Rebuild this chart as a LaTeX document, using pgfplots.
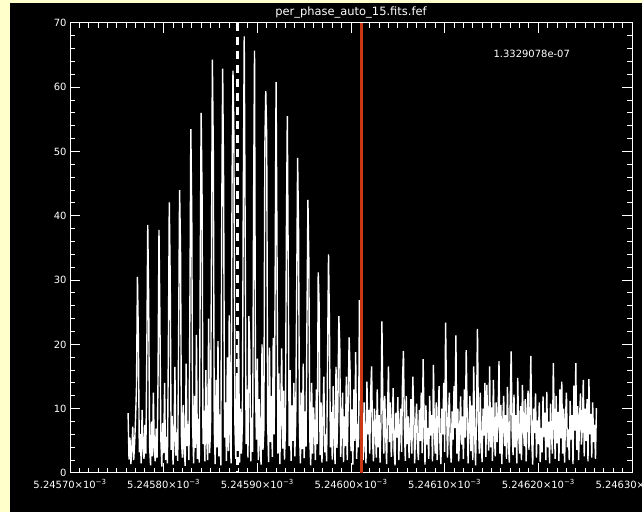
\documentclass[border=0pt]{standalone}
\usepackage{fontspec}
\setmainfont{DejaVu Sans}
\usepackage{pgfplots}
\pgfplotsset{compat=1.18}
\definecolor{bgyellow}{RGB}{255,255,204}
\definecolor{idlred}{RGB}{205,55,20}
\begin{document}
\begin{tikzpicture}[x=1bp,y=1bp]
\useasboundingbox (0,0) rectangle (642,512);
\clip (0,0) rectangle (642,512);
\fill[bgyellow] (0,0) rectangle (642,512);
\fill[black] (10,0) rectangle (642,509);
\node[white,font=\fontsize{11.5}{13}\selectfont] at (351,499) {per\_phase\_auto\_15.fits.fef};
\begin{axis}[
  at={(70bp,39bp)}, anchor=south west,
  scale only axis, width=562bp, height=450bp,
  xmin=0, xmax=600, ymin=0, ymax=70,
  axis line style={white, line width=1bp},
  every tick/.style={white, line width=1bp},
  major tick length=10bp, minor tick length=5bp,
  tick align=inside,
  xtick={0,100,200,300,400,500,600},
  xticklabels={5.24570×10\textsuperscript{−3},5.24580×10\textsuperscript{−3},5.24590×10\textsuperscript{−3},5.24600×10\textsuperscript{−3},5.24610×10\textsuperscript{−3},5.24620×10\textsuperscript{−3},5.24630×10\textsuperscript{−3}},
  minor x tick num=9,
  ytick={0,10,20,30,40,50,60,70},
  minor y tick num=4,
  /pgf/number format/assume math mode=true,
  tick label style={white, font=\fontsize{10}{12}\selectfont},
  xticklabel style={yshift=-3bp},
  clip=true,
]
\addplot[white, line width=1.4bp, mark=none] coordinates {
(62,9.3)(63,2.1)(64,5.5)(65,1.4)(66,3.8)(67,7.2)(68,2.0)(69,4.6)(70,8.5)(71,13.5)(72,30.5)(73,21.0)(74,3.2)(75,6.1)(76,1.5)(77,9.8)(78,4.0)(79,2.2)(80,7.5)(81,3.0)
(82,18.6)(83,38.6)(84,27.0)(85,4.1)(86,1.2)(87,8.0)(88,2.6)(89,12.5)(90,3.5)(91,1.8)(92,6.9)(93,2.4)(94,15.0)(95,37.8)(96,24.0)(97,5.2)(98,1.0)(99,7.8)(100,3.1)
(101,14.0)(102,2.0)(103,5.6)(104,1.5)(105,19.0)(106,42.1)(107,30.0)(108,3.6)(109,8.9)(110,1.3)(111,4.8)(112,16.5)(113,2.7)(114,6.3)(115,1.9)(116,22.0)(117,44.0)(118,35.0)(119,5.0)(120,2.4)
(121,10.6)(122,3.3)(123,1.1)(124,17.0)(125,4.2)(126,7.6)(127,2.0)(128,26.0)(129,53.5)(130,40.0)(131,6.8)(132,1.5)(133,12.0)(134,3.9)(135,21.5)(136,2.2)(137,8.4)(138,1.6)(139,30.0)(140,56.0)
(141,43.0)(142,4.5)(143,9.7)(144,1.8)(145,16.0)(146,5.3)(147,2.0)(148,24.0)(149,3.1)(150,6.5)(151,33.0)(152,64.3)(153,50.0)(154,7.2)(155,1.4)(156,14.5)(157,4.0)(158,20.5)(159,2.6)(160,9.1)
(161,1.2)(162,40.0)(163,62.9)(164,45.0)(165,5.5)(166,11.0)(167,1.9)(168,18.0)(169,3.4)(170,24.5)(171,6.0)(172,1.5)(173,45.0)(174,62.6)(175,52.0)(176,8.0)(177,2.2)(178,15.5)(179,4.0)(180,22.0)
(181,1.6)(182,10.0)(183,3.0)(184,7.5)(185,42.5)(186,67.9)(187,38.0)(188,4.5)(189,13.0)(190,2.4)(191,24.4)(192,19.0)(193,1.8)(194,8.6)(195,3.3)(196,42.0)(197,65.7)(198,14.0)(199,5.2)(200,17.8)
(201,2.0)(202,11.5)(203,4.4)(204,1.3)(205,20.0)(206,3.6)(207,6.9)(208,50.6)(209,59.4)(210,52.3)(211,8.1)(212,1.7)(213,19.5)(214,4.8)(215,12.0)(216,2.5)(217,21.0)(218,6.0)(219,30.0)(220,60.8)
(221,35.0)(222,3.0)(223,15.5)(224,1.4)(225,9.0)(226,19.4)(227,3.8)(228,12.8)(229,2.1)(230,7.0)(231,37.0)(232,55.5)(233,32.0)(234,4.2)(235,16.0)(236,1.9)(237,10.5)(238,5.0)(239,14.0)(240,2.6)
(241,8.3)(242,28.0)(243,49.0)(244,38.0)(245,6.4)(246,1.5)(247,12.5)(248,3.7)(249,17.0)(250,2.3)(251,9.6)(252,4.1)(253,24.0)(254,42.5)(255,33.0)(256,5.5)(257,1.2)(258,14.0)(259,3.0)(260,10.2)
(261,6.7)(262,2.0)(263,13.0)(264,4.5)(265,31.2)(266,26.0)(267,2.8)(268,11.0)(269,1.6)(270,8.4)(271,15.0)(272,3.2)(273,6.0)(274,1.8)(275,18.0)(276,34.0)(277,23.0)(278,4.0)(279,9.5)(280,2.1)
(281,13.5)(282,5.5)(283,1.4)(284,16.5)(285,3.9)(286,10.0)(287,24.4)(288,20.0)(289,2.5)(290,7.1)(291,12.5)(292,1.7)(293,8.8)(294,4.2)(295,15.0)(296,2.0)(297,11.0)(298,21.1)(299,16.0)(300,3.4)
(301,9.9)(302,1.3)(303,13.0)(304,5.0)(305,18.8)(306,2.2)(307,7.6)(308,4.0)(309,26.9)(310,12.0)(311,3.1)(312,8.5)(313,2.0)(314,11.0)(315,4.6)(316,1.5)(317,14.2)(318,6.0)(319,9.8)(320,3.0)
(321,12.5)(322,16.6)(323,5.2)(324,1.8)(325,10.0)(326,7.5)(327,2.4)(328,13.0)(329,4.0)(330,9.0)(331,1.6)(332,8.0)(333,23.6)(334,10.5)(335,3.0)(336,12.0)(337,6.2)(338,1.4)(339,9.5)(340,16.6)
(341,4.8)(342,11.0)(343,2.5)(344,7.0)(345,13.2)(346,3.6)(347,1.2)(348,9.4)(349,5.5)(350,11.8)(351,2.0)(352,6.8)(353,10.0)(354,3.3)(355,14.5)(356,19.0)(357,7.0)(358,1.9)(359,12.0)(360,4.5)
(361,8.8)(362,2.3)(363,6.0)(364,11.5)(365,3.0)(366,15.0)(367,9.0)(368,1.5)(369,7.2)(370,10.8)(371,4.0)(372,2.0)(373,9.8)(374,5.0)(375,12.5)(376,3.1)(377,17.7)(378,8.0)(379,1.3)(380,10.5)
(381,4.4)(382,7.0)(383,2.2)(384,12.0)(385,5.8)(386,9.0)(387,1.8)(388,16.8)(389,6.5)(390,3.0)(391,11.0)(392,2.0)(393,8.4)(394,13.5)(395,4.2)(396,1.4)(397,10.0)(398,6.0)(399,14.0)(400,3.3)
(401,23.4)(402,11.0)(403,2.4)(404,8.0)(405,12.5)(406,4.0)(407,1.6)(408,9.6)(409,5.2)(410,13.5)(411,7.0)(412,21.4)(413,3.0)(414,10.0)(415,1.8)(416,6.5)(417,11.9)(418,4.4)(419,8.8)(420,2.2)
(421,13.0)(422,5.5)(423,19.1)(424,9.0)(425,1.5)(426,7.6)(427,12.0)(428,3.4)(429,10.5)(430,2.0)(431,16.6)(432,6.0)(433,1.2)(434,9.2)(435,22.4)(436,8.0)(437,3.0)(438,12.5)(439,4.6)(440,1.7)
(441,10.0)(442,5.8)(443,14.0)(444,2.5)(445,13.7)(446,7.0)(447,3.5)(448,16.6)(449,4.0)(450,10.2)(451,1.9)(452,14.5)(453,6.3)(454,2.6)(455,11.0)(456,4.8)(457,8.0)(458,17.4)(459,3.0)(460,10.6)
(461,1.4)(462,7.5)(463,12.0)(464,4.2)(465,9.0)(466,2.2)(467,13.4)(468,5.0)(469,1.6)(470,11.0)(471,18.9)(472,6.8)(473,2.8)(474,12.2)(475,4.0)(476,9.0)(477,1.5)(478,14.8)(479,6.4)(480,3.0)
(481,10.4)(482,2.0)(483,13.7)(484,7.5)(485,4.2)(486,11.5)(487,1.8)(488,8.6)(489,12.8)(490,3.6)(491,9.8)(492,18.2)(493,5.0)(494,1.3)(495,10.0)(496,6.2)(497,12.4)(498,2.4)(499,8.2)(500,4.5)
(501,11.0)(502,1.7)(503,7.0)(504,3.2)(505,11.9)(506,5.6)(507,9.4)(508,2.0)(509,12.6)(510,4.0)(511,8.0)(512,1.5)(513,10.8)(514,6.0)(515,3.0)(516,17.1)(517,7.8)(518,2.2)(519,12.0)(520,4.6)
(521,9.5)(522,1.9)(523,13.0)(524,5.4)(525,14.2)(526,3.0)(527,10.0)(528,1.6)(529,8.4)(530,12.5)(531,4.0)(532,6.8)(533,2.0)(534,11.2)(535,5.2)(536,9.0)(537,1.4)(538,13.6)(539,6.6)(540,17.1)
(541,3.6)(542,10.4)(543,2.0)(544,8.5)(545,12.4)(546,4.4)(547,7.2)(548,14.5)(549,2.6)(550,10.0)(551,5.0)(552,11.5)(553,1.8)(554,14.6)(555,6.0)(556,9.2)(557,2.4)(558,11.0)(559,4.8)(560,7.5)
(561,2.2)(562,10.1)
};
\addplot[white, line width=3bp, dash pattern=on 8bp off 6bp, mark=none] coordinates {(178.6,70) (178.6,0)};
\addplot[idlred, line width=3bp, mark=none] coordinates {(311.7,70) (311.7,0)};
\node[white, font=\fontsize{10}{12}\selectfont] at (axis cs:493,65.2) {1.3329078e-07};
\end{axis}
\end{tikzpicture}
\end{document}
